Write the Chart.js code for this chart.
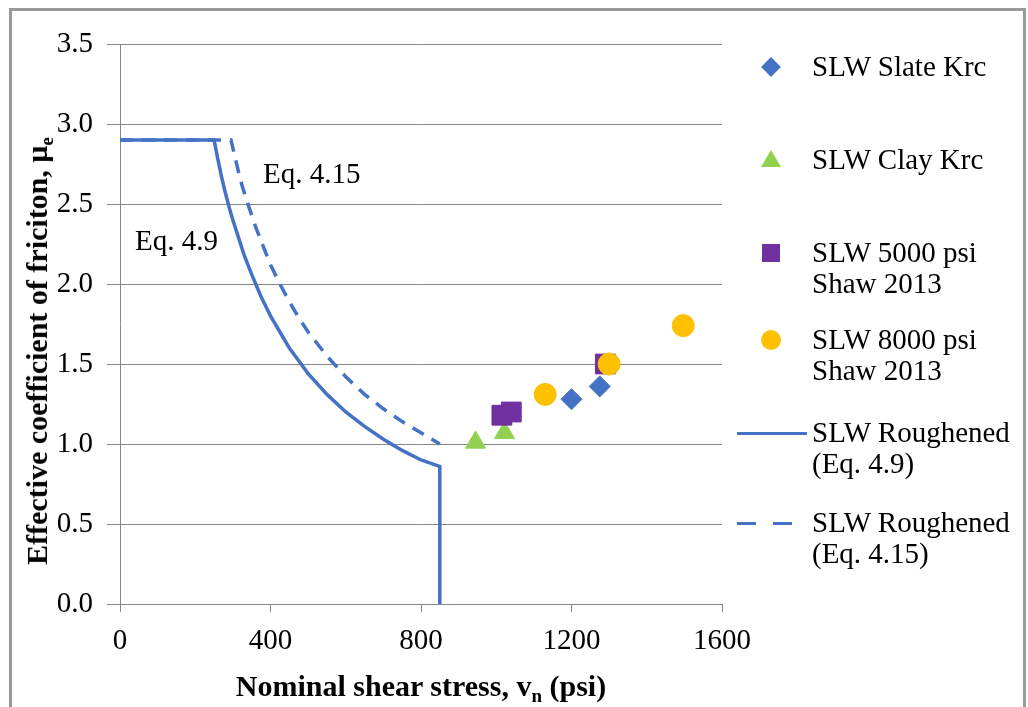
<!DOCTYPE html>
<html>
<head>
<meta charset="utf-8">
<script src="https://cdn.jsdelivr.net/npm/chart.js@4.4.1/dist/chart.umd.min.js"></script>
<style>
  body { margin:0; background:#fff; width:1028px; height:707px; overflow:hidden; position:relative;
         font-family:"Liberation Serif","Times New Roman",serif; color:#000; }
  canvas { position:absolute; left:0; top:0; }
  #frame { position:absolute; left:9px; top:8px; width:1011px; height:720px; border:3px solid #999; pointer-events:none; }
  .ttl { position:absolute; font-weight:bold; font-size:30px; line-height:30px; white-space:nowrap; }
  .ttl sub { font-size:19px; vertical-align:-6px; line-height:0; }
  .leg { position:absolute; left:812px; font-size:29px; line-height:31px; white-space:nowrap; }
  .mk { position:absolute; }
</style>
</head>
<body>
<canvas id="chart" width="1028" height="707"></canvas>
<div class="ttl" style="left:421px; top:671px; transform:translateX(-50%);">Nominal shear stress, v<sub>n</sub> (psi)</div>
<div class="ttl" style="left:37px; top:351px; transform:translate(-50%,-50%) rotate(-90deg);">Effective coefficient of friciton, μ<sub>e</sub></div>
<div id="legend"></div>
<div id="frame"></div>
<script>
// measured points
const slateX = [1200, 1275];
const slateY = [1.28, 1.36];
const clayX = [945, 1022];
const clayY = [1.01, 1.07];
const psi5000X = [1015, 1040, 1290];
const psi5000Y = [1.18, 1.20, 1.50];
const psi8000X = [1130, 1300, 1497];
const psi8000Y = [1.31, 1.50, 1.74];

// Eq. 4.9 curve (drops to zero at the cut-off)
const eq49X = [0, 250, 260, 270, 280, 290, 300, 315, 330, 350, 375, 400, 425, 450, 475, 500,
               550, 600, 650, 700, 750, 800, 850, 850];
const eq49Y = [2.9, 2.9, 2.78, 2.67, 2.57, 2.48, 2.4, 2.29, 2.18, 2.06, 1.92, 1.8, 1.7, 1.6, 1.52, 1.44,
               1.31, 1.2, 1.11, 1.03, 0.96, 0.9, 0.86, 0];
// Eq. 4.15 curve
const eq415X = [0, 295, 305, 315, 325, 340, 360, 380, 400, 425, 450, 475, 500,
                550, 600, 650, 700, 750, 800, 850];
const eq415Y = [2.9, 2.9, 2.8, 2.7, 2.61, 2.5, 2.36, 2.24, 2.12, 2.0, 1.89, 1.79, 1.7,
                1.55, 1.42, 1.31, 1.22, 1.14, 1.07, 1.0];

const xTicks = [0, 400, 800, 1200, 1600];
const yTicks = [0, 0.5, 1, 1.5, 2, 2.5, 3, 3.5];

const legendLabels = [
  ['SLW Slate Krc'],
  ['SLW Clay Krc'],
  ['SLW 5000 psi', 'Shaw 2013'],
  ['SLW 8000 psi', 'Shaw 2013'],
  ['SLW Roughened', '(Eq. 4.9)'],
  ['SLW Roughened', '(Eq. 4.15)']
];
const noteText = ['Eq. 4.15', 'Eq. 4.9'];
const noteX = [380, 40];
const noteY = [2.63, 2.21];

const blue = '#4472C4';
const green = '#92D050';
const purple = '#7030A0';
const gold = '#FFC000';
const gridColor = '#878787';
const serif = '"Liberation Serif", "Times New Roman", serif';

const pts = (xs, ys) => xs.map((x, i) => ({ x: x, y: ys[i] }));

// text notes next to the two curves
const notesPlugin = {
  id: 'notes',
  afterDatasetsDraw(chart) {
    const ctx = chart.ctx;
    ctx.save();
    ctx.font = '29px ' + serif;
    ctx.fillStyle = '#000';
    ctx.textBaseline = 'alphabetic';
    noteText.forEach((t, i) => {
      ctx.fillText(t, chart.scales.x.getPixelForValue(noteX[i]), chart.scales.y.getPixelForValue(noteY[i]));
    });
    ctx.restore();
  }
};

new Chart(document.getElementById('chart'), {
  type: 'scatter',
  data: {
    datasets: [
      { label: legendLabels[0].join(' '), data: pts(slateX, slateY), pointStyle: 'rectRot', pointRadius: 10.5,
        backgroundColor: blue, borderColor: blue, borderWidth: 1, order: 4 },
      { label: legendLabels[1].join(' '), data: pts(clayX, clayY), pointStyle: 'triangle', pointRadius: 11.5,
        backgroundColor: green, borderColor: green, borderWidth: 1, order: 3 },
      { label: legendLabels[2].join(' '), data: pts(psi5000X, psi5000Y), pointStyle: 'rect', pointRadius: 14,
        backgroundColor: purple, borderColor: purple, borderWidth: 1, order: 2 },
      { label: legendLabels[3].join(' '), data: pts(psi8000X, psi8000Y), pointStyle: 'circle', pointRadius: 11,
        backgroundColor: gold, borderColor: gold, borderWidth: 1, order: 1 },
      { label: legendLabels[4].join(' '), data: pts(eq49X, eq49Y), showLine: true, pointRadius: 0,
        borderColor: blue, borderWidth: 3.5, tension: 0, order: 5 },
      { label: legendLabels[5].join(' '), data: pts(eq415X, eq415Y), showLine: true, pointRadius: 0,
        borderColor: blue, borderWidth: 3.5, borderDash: [13, 9], tension: 0, order: 6 }
    ]
  },
  options: {
    responsive: false,
    animation: false,
    layout: { padding: { top: 44, right: 306, left: 0, bottom: 0 } },
    plugins: { legend: { display: false }, tooltip: { enabled: false } },
    scales: {
      x: {
        type: 'linear', min: 0, max: 1600,
        afterBuildTicks: s => { s.ticks = xTicks.map(v => ({ value: v })); },
        afterFit: s => { s.height = 103; },
        ticks: { font: { family: serif, size: 29 }, color: '#000', padding: 12, maxRotation: 0,
                 callback: v => String(v) },
        grid: { drawOnChartArea: false, drawTicks: true, tickLength: 8, color: gridColor },
        border: { display: true, color: gridColor }
      },
      y: {
        min: 0, max: 3.5,
        afterBuildTicks: s => { s.ticks = yTicks.map(v => ({ value: v })); },
        afterFit: s => { s.width = 120; },
        ticks: { font: { family: serif, size: 29 }, color: '#000', padding: 14, callback: v => v.toFixed(1) },
        grid: { color: gridColor, tickLength: 13 },
        border: { display: true, color: gridColor }
      }
    }
  },
  plugins: [notesPlugin]
});

// legend on the right
const legTop = [67, 160, 253, 340, 433, 523];
const legend = document.getElementById('legend');
legendLabels.forEach((lines, i) => {
  const d = document.createElement('div');
  d.className = 'leg';
  d.style.top = (legTop[i] - 15.7) + 'px';
  d.innerHTML = lines.join('<br>');
  legend.appendChild(d);
});
const mk = (css) => {
  const m = document.createElement('div');
  m.className = 'mk';
  m.style.cssText += css;
  legend.appendChild(m);
};
mk('left:764px;top:' + (legTop[0] - 7) + 'px;width:14px;height:14px;background:' + blue + ';transform:rotate(45deg);');
mk('left:761px;top:' + (legTop[1] - 10) + 'px;width:0;height:0;border-left:10px solid transparent;border-right:10px solid transparent;border-bottom:17px solid ' + green + ';');
mk('left:762px;top:' + (legTop[2] - 9) + 'px;width:18px;height:18px;background:' + purple + ';');
mk('left:761px;top:' + (legTop[3] - 10) + 'px;width:20px;height:20px;border-radius:50%;background:' + gold + ';');
mk('left:737px;top:' + (legTop[4] - 1.5) + 'px;width:70px;height:3px;background:' + blue + ';');
mk('left:737px;top:' + (legTop[5] - 1.5) + 'px;width:19px;height:3px;background:' + blue + ';');
mk('left:773px;top:' + (legTop[5] - 1.5) + 'px;width:19px;height:3px;background:' + blue + ';');
</script>
</body>
</html>
